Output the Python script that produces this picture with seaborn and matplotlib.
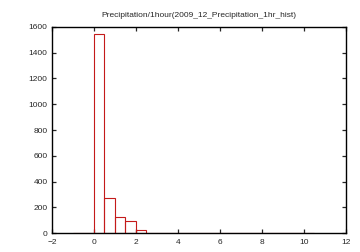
import numpy as np
import matplotlib
matplotlib.use("Agg")
import matplotlib.pyplot as plt
import seaborn as sns

# Data
bin_edges = [-1.0, -0.5, 0.0, 0.5, 1.0, 1.5, 2.0, 2.5, 3.0, 3.5, 4.0, 4.5, 5.0,
             5.5, 6.0, 6.5, 7.0, 7.5, 8.0, 8.5, 9.0, 9.5, 10.0, 10.5]
counts = [0, 0, 1546, 272, 124, 93, 23, 4, 2, 1, 1, 0, 0,
          0, 0, 0, 0, 0, 0, 0, 0, 0, 0]
xticks = [-2, 0, 2, 4, 6, 8, 10, 12]
yticks = [0, 200, 400, 600, 800, 1000, 1200, 1400, 1600]
title = "Precipitation/1hour(2009_12_Precipitation_1hr_hist)"

sns.set_style("ticks")
plt.rcParams['font.family'] = ['Liberation Sans', 'DejaVu Sans']

centers = [(bin_edges[i] + bin_edges[i + 1]) / 2 for i in range(len(counts))]

fig = plt.figure(figsize=(3.6, 2.52), dpi=100)
ax = fig.add_axes([0.144, 0.075, 0.817, 0.818])
sns.histplot(x=centers, weights=counts, bins=bin_edges, fill=False,
             color='#c41a1a', linewidth=0.8, ax=ax)

ax.set_xlim(-2, 12)
ax.set_ylim(0, 1600)
ax.set_xticks(xticks)
ax.set_yticks(yticks)
ax.set_xlabel("")
ax.set_ylabel("")
ax.set_title(title, fontsize=6, pad=7)
ax.tick_params(direction='in', top=True, right=True, length=3, width=0.9,
               labelsize=6)
ax.tick_params(axis='x', pad=4)
ax.tick_params(axis='y', pad=3)
for s in ax.spines.values():
    s.set_linewidth(1.0)
    s.set_color('black')

fig.savefig("out.png", dpi=100)
